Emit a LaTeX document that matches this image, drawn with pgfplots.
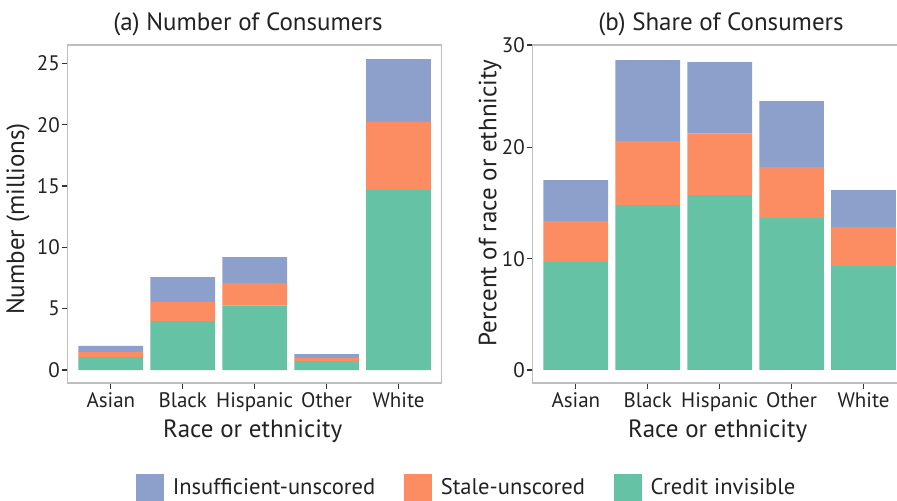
\documentclass[border=0pt]{standalone}
\usepackage{pgfplots}
\usepackage{pgfplotstable}
\pgfplotsset{compat=1.18}
\usepackage{fontspec}
\setmainfont{PT Sans}
\definecolor{cgreen}{HTML}{66C2A5}
\definecolor{corange}{HTML}{FC8D62}
\definecolor{cblue}{HTML}{8DA0CB}
\definecolor{framegray}{HTML}{BEBEBE}
\definecolor{tickgray}{HTML}{333333}
\definecolor{txt}{HTML}{222222}

\pgfplotstableread{
x green orange blue
1 1.06 0.41 0.49
2 3.99 1.55 2.04
3 5.24 1.85 2.12
4 0.73 0.25 0.32
5 14.67 5.57 5.11
}\numtab
\pgfplotstableread{
x green orange blue
1 9.70 3.68 3.69
2 14.82 5.75 7.27
3 15.72 5.54 6.40
4 13.65 4.58 5.93
5 9.34 3.50 3.33
}\sharetab

\newcommand{\labfont}{\fontsize{12.5}{15}\selectfont}
\pgfplotsset{
  mystyle/.style={
    scale only axis, width=187pt, height=169pt,
    xmin=0.4, xmax=5.6,
    ybar stacked, bar width=0.9,
    xtick={1,2,3,4,5}, xticklabels={Asian,Black,Hispanic,Other,White},
    axis line style={framegray, line width=0.75pt},
    tick pos=left, tick align=outside,
    major tick length=3pt,
    tick style={tickgray, line width=0.6pt},
    /pgf/number format/assume math mode=true,
    tick label style={font=\fontsize{10.5}{12}\selectfont, text=txt},
    yticklabel style={inner sep=0.8pt},
    xticklabel style={inner sep=1.5pt},
    every axis x label/.style={at={(axis description cs:0.5,0)}, xshift=-1pt, yshift=-27.15pt, anchor=base, font=\labfont, text=txt},
    every axis title/.style={at={(axis description cs:0.5,1)}, yshift=7.5pt, anchor=base, font=\labfont, text=txt},
    xlabel={Race or ethnicity},
  }
}

\begin{document}
\begin{tikzpicture}
\begin{axis}[mystyle,
  at={(33.85pt,58.5pt)}, anchor=south west,
  ymin=-1.06, ymax=26.5, ytick={0,5,10,15,20,25},
  every axis y label/.style={at={(axis description cs:0,0.5)}, xshift=-24.85pt, yshift=-2.5pt, rotate=90, anchor=center, font=\labfont, text=txt},
  ylabel={Number (millions)},
  title={(a) Number of Consumers}, title style={xshift=-3.35pt},
  legend style={at={(axis description cs:0.1826,-0.2692)}, anchor=north west,
    draw=none, fill=none, inner sep=0pt, outer sep=0pt,
    font=\fontsize{11.3}{13}\selectfont, text=txt,
    legend columns=3,
    /tikz/every odd column/.append style={column sep=2.4pt},
    /tikz/every even column/.append style={column sep=12.4pt}},
  legend image code/.code={\fill[#1] (0pt,-7.45pt) rectangle (14pt,6.55pt);},
  reverse legend,
]
\addplot+[fill=cgreen, draw=none] table[x=x, y=green] {\numtab};
\addlegendentry{Credit invisible}
\addplot+[fill=corange, draw=none] table[x=x, y=orange] {\numtab};
\addlegendentry{Stale-unscored}
\addplot+[fill=cblue, draw=none] table[x=x, y=blue] {\numtab};
\addlegendentry{Insufficient-unscored}
\end{axis}

\begin{axis}[mystyle,
  at={(266.35pt,58.5pt)}, anchor=south west,
  ymin=-1.17, ymax=29.2, ytick={0,10,20,29.2}, yticklabels={0,10,20,30},
  every axis y label/.style={at={(axis description cs:0,0.5)}, xshift=-21.35pt, yshift=5.5pt, rotate=90, anchor=center, font=\labfont, text=txt},
  ylabel={Percent of race or ethnicity},
  title={(b) Share of Consumers}, title style={xshift=0.65pt},
]
\addplot+[fill=cgreen, draw=none] table[x=x, y=green] {\sharetab};
\addplot+[fill=corange, draw=none] table[x=x, y=orange] {\sharetab};
\addplot+[fill=cblue, draw=none] table[x=x, y=blue] {\sharetab};
\end{axis}
\pgfresetboundingbox
\path[use as bounding box] (0,0) rectangle (448.5pt,250pt);
\end{tikzpicture}
\end{document}
